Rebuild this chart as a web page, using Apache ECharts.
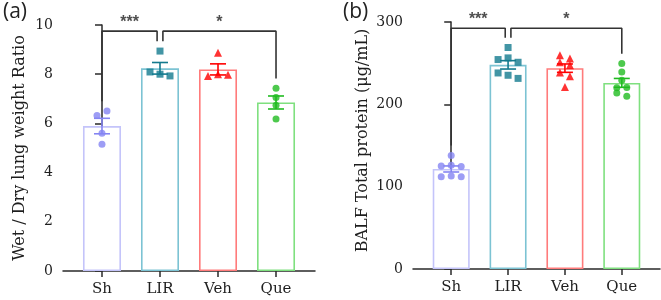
<!DOCTYPE html>
<html>
<head>
<meta charset="utf-8">
<script src="https://cdn.jsdelivr.net/npm/echarts@6/dist/echarts.min.js"></script>
<style>
    html, body { margin: 0; padding: 0; background: #fff; }
    #chart { width: 661px; height: 300px; }
</style>
</head>
<body>
<div id="chart"></div>
<script>
// groups and measured values (one array per group, per panel)
var groups = ['Sh', 'LIR', 'Veh', 'Que'];

var ratioSh = [6.32, 6.5, 5.6, 5.15];
var ratioLIR = [8.94, 8.09, 8.0, 7.93];
var ratioVeh = [8.87, 7.93, 8.0, 7.98];
var ratioQue = [7.43, 7.05, 6.74, 6.18];

var proteinSh = [138, 125, 126, 124.5, 112, 113, 112];
var proteinLIR = [269, 254.4, 256.4, 251.1, 238.1, 235.3, 231.5];
var proteinVeh = [259.6, 255.6, 251, 247.5, 238.6, 234.1, 221.2];
var proteinQue = [249.5, 239.4, 229.3, 220, 220.4, 213.9, 209.9];

var ratioTicks = [0, 2, 4, 6, 8, 10];
var proteinTicks = [0, 100, 200, 300];

// significance brackets: [from group, to group, label]
var comparisons = [[0, 1, '***'], [1, 3, '*']];

var barColors = ['#c4c4fa', '#7cc3d3', '#ff7b7b', '#7fe07f'];
var dotColors = ['#8585f2', '#137a8e', '#ff0000', '#20bb20'];
var dotSymbols = ['circle', 'rect', 'triangle', 'circle'];
var dotSizes = [7, 7, 8, 7];

var xMin = -0.672, xMax = 3.672;
var serif = 'DejaVu Serif';
var axisColor = '#2a2a2a';
var textColor = '#1e1e1e';

var panels = [
    {grid: {left: 63, top: 25, width: 252, height: 246}, data: [ratioSh, ratioLIR, ratioVeh, ratioQue],
        ticks: ratioTicks, name: 'Wet / Dry lung weight Ratio', nameGap: 35, namePad: [0, 0, 0, 0],
        barWidth: 38, tag: '(a)', tagX: 3},
    {grid: {left: 413, top: 22, width: 247, height: 247}, data: [proteinSh, proteinLIR, proteinVeh, proteinQue],
        ticks: proteinTicks, name: 'BALF Total protein (μg/mL)', nameGap: 42, namePad: [0, 0, 0, 10],
        barWidth: 37, tag: '(b)', tagX: 343}
];

function mean(a) {
    return a.reduce(function (s, v) { return s + v; }, 0) / a.length;
}
function sem(a) {
    var m = mean(a);
    var ss = a.reduce(function (s, v) { return s + (v - m) * (v - m); }, 0);
    return Math.sqrt(ss / (a.length - 1)) / Math.sqrt(a.length);
}

// GraphPad-like scatter: points close in height share a row, rows are centred
function spread(vals, yPx, xPx) {
    var out = [], row = [];
    function flush() {
        row.forEach(function (v, i) {
            out.push({y: v, dx: (i - (row.length - 1) / 2) * 10 / xPx});
        });
        row = [];
    }
    vals.forEach(function (v) {
        if (row.length && Math.abs(mean(row) - v) * yPx >= 5) {
            flush();
        }
        row.push(v);
    });
    flush();
    return out;
}

var grids = [], xAxes = [], yAxes = [], series = [], graphics = [];

panels.forEach(function (p, k) {
    var yMax = p.ticks[p.ticks.length - 1];
    var yPx = p.grid.height / yMax;
    var xPx = p.grid.width / (xMax - xMin);

    grids.push(p.grid);
    xAxes.push({
        type: 'value', gridIndex: k, min: xMin, max: xMax,
        axisLine: {lineStyle: {color: axisColor, width: 1.5}},
        axisTick: {customValues: [0, 1, 2, 3], length: 6, lineStyle: {color: axisColor, width: 1.5}},
        axisLabel: {customValues: [0, 1, 2, 3], margin: 11, color: textColor, fontFamily: serif, fontSize: 15,
            formatter: function (v) { return groups[Math.round(v)]; }},
        splitLine: {show: false}
    });
    yAxes.push({
        type: 'value', gridIndex: k, min: 0, max: yMax, interval: p.ticks[1] - p.ticks[0],
        name: p.name, nameLocation: 'middle', nameGap: p.nameGap,
        nameTextStyle: {color: textColor, fontFamily: serif, fontSize: 16, padding: p.namePad},
        axisLine: {show: true, lineStyle: {color: axisColor, width: 1.5}},
        axisTick: {show: true, length: 7, lineStyle: {color: axisColor, width: 1.5}},
        axisLabel: {margin: 10, color: textColor, fontFamily: serif, fontSize: 14},
        splitLine: {show: false}
    });

    series.push({
        type: 'bar', xAxisIndex: k, yAxisIndex: k, barWidth: p.barWidth, z: 2,
        data: p.data.map(function (vals, i) {
            return {value: [i, mean(vals)], itemStyle: {color: '#fff', borderColor: barColors[i], borderWidth: 1.6}};
        })
    });

    series.push({
        type: 'custom', xAxisIndex: k, yAxisIndex: k, z: 3,
        renderItem: function (params, api) {
            var top = api.coord([api.value(0), api.value(2)]);
            var bot = api.coord([api.value(0), api.value(1)]);
            var st = {stroke: api.visual('color'), lineWidth: 1.6};
            return {
                type: 'group', children: [
                    {type: 'line', shape: {x1: top[0], y1: top[1], x2: bot[0], y2: bot[1]}, style: st},
                    {type: 'line', shape: {x1: top[0] - 8, y1: top[1], x2: top[0] + 8, y2: top[1]}, style: st},
                    {type: 'line', shape: {x1: bot[0] - 8, y1: bot[1], x2: bot[0] + 8, y2: bot[1]}, style: st}
                ]
            };
        },
        data: p.data.map(function (vals, i) {
            var m = mean(vals), e = sem(vals);
            return {value: [i, m - e, m + e], itemStyle: {color: dotColors[i]}};
        })
    });

    var pts = [];
    p.data.forEach(function (vals, i) {
        spread(vals, yPx, xPx).forEach(function (d) {
            pts.push({value: [i + d.dx, d.y], symbol: dotSymbols[i], symbolSize: dotSizes[i],
                itemStyle: {color: dotColors[i]}});
        });
    });
    series.push({type: 'scatter', xAxisIndex: k, yAxisIndex: k, z: 4, data: pts});

    // brackets
    var used = {};
    comparisons.forEach(function (c) {
        used[c[0]] = (used[c[0]] || 0) + 1;
        used[c[1]] = (used[c[1]] || 0) + 1;
    });
    var level = yMax * 0.975, gap = yMax * 0.04;
    comparisons.forEach(function (c) {
        var a = c[0], b = c[1];
        var xa = a + (used[a] > 1 ? 0.05 : 0);
        var xb = b - (used[b] > 1 ? 0.05 : 0);
        var legA = Math.max.apply(null, p.data[a]) + gap;
        var legB = Math.max.apply(null, p.data[b]) + gap;
        series.push({
            type: 'line', xAxisIndex: k, yAxisIndex: k, z: 5, symbol: 'none', silent: true,
            lineStyle: {color: '#333', width: 1.6},
            data: [[xa, legA], [xa, level], [xb, level], [xb, legB]]
        });
        series.push({
            type: 'scatter', xAxisIndex: k, yAxisIndex: k, z: 5, symbolSize: 0, silent: true,
            label: {show: true, position: 'top', distance: 1, formatter: c[2], color: '#222',
                fontFamily: 'Liberation Sans', fontWeight: 'bold', fontSize: 16},
            data: [[(xa + xb) / 2, level]]
        });
    });

    graphics.push({
        type: 'text', left: p.tagX, top: 2,
        style: {text: p.tag, fill: '#222', font: '21px "Open Sans"'}
    });
});

var chart = echarts.init(document.getElementById('chart'));
chart.setOption({
    animation: false,
    backgroundColor: '#fff',
    grid: grids,
    xAxis: xAxes,
    yAxis: yAxes,
    series: series,
    graphic: graphics
});
</script>
</body>
</html>
